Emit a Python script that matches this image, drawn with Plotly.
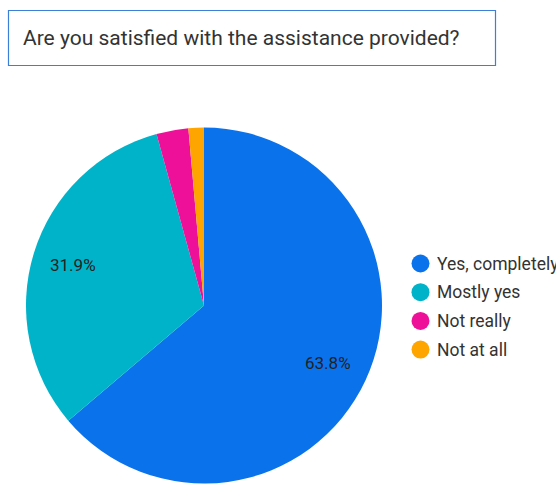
import math
import plotly.graph_objects as go

# Survey responses (share of respondents, %)
labels = ["Yes, completely", "Mostly yes", "Not really", "Not at all"]
values = [63.8, 31.9, 2.9, 1.4]
colors = ["#0a73ec", "#00b3c9", "#ef109a", "#ffa500"]
# Only the two large slices carry a percentage label
show_label = [True, True, False, False]
title_text = "Are you satisfied with the assistance provided?"

W, H = 556, 485

# Pie geometry in pixels
cx, cy, r = 204, 305.5, 178

fig = go.Figure()
fig.add_trace(go.Pie(
    labels=labels,
    values=values,
    sort=False,
    direction="clockwise",
    rotation=0,
    marker=dict(colors=colors, line=dict(width=0)),
    textinfo="none",
    hoverinfo="label+percent",
    showlegend=False,
    domain=dict(x=[(cx - r) / W, (cx + r) / W],
                y=[(H - cy - r) / H, (H - cy + r) / H]),
))

# Percentage labels on the slice bisectors, at 77% of the radius
total = sum(values)
cum = 0.0
for v, show in zip(values, show_label):
    mid = (cum + v / 2) / total * 2 * math.pi
    cum += v
    if not show:
        continue
    px = cx + 0.77 * r * math.sin(mid)
    py = cy - 0.77 * r * math.cos(mid)
    fig.add_annotation(text=f"{v / total * 100:.1f}%", xref="paper", yref="paper",
                       x=px / W, y=1 - py / H, xanchor="center", yanchor="middle",
                       showarrow=False,
                       font=dict(family="Roboto", size=17, color="#222222"))

# Title box
fig.add_shape(type="rect", xref="paper", yref="paper",
              x0=8.5 / W, x1=495.5 / W, y0=1 - 65.5 / H, y1=1 - 10.5 / H,
              line=dict(color="#3c7fd9", width=1.2), fillcolor="white")
fig.add_annotation(text=title_text, xref="paper", yref="paper",
                   x=21 / W, y=1 - 38 / H, xanchor="left", yanchor="middle",
                   showarrow=False,
                   font=dict(family="Roboto", size=21, color="#333333"))

# Legend with round markers
leg_x = 420.5
leg_y0 = 263.5
leg_dy = 28.7
for i, (lab, col) in enumerate(zip(labels, colors)):
    yc = 1 - (leg_y0 + i * leg_dy) / H
    fig.add_shape(type="circle", xref="paper", yref="paper",
                  xsizemode="pixel", ysizemode="pixel",
                  xanchor=leg_x / W, yanchor=yc,
                  x0=-9, x1=9, y0=-9, y1=9,
                  line=dict(width=0), fillcolor=col)
    fig.add_annotation(text=lab, xref="paper", yref="paper",
                       x=435 / W, y=yc, xanchor="left", yanchor="middle",
                       showarrow=False,
                       font=dict(family="Roboto", size=17.5, color="#333333"))

fig.update_layout(
    width=W, height=H,
    margin=dict(l=0, r=0, t=0, b=0),
    paper_bgcolor="white",
    plot_bgcolor="white",
)

fig.write_html("out.html")
